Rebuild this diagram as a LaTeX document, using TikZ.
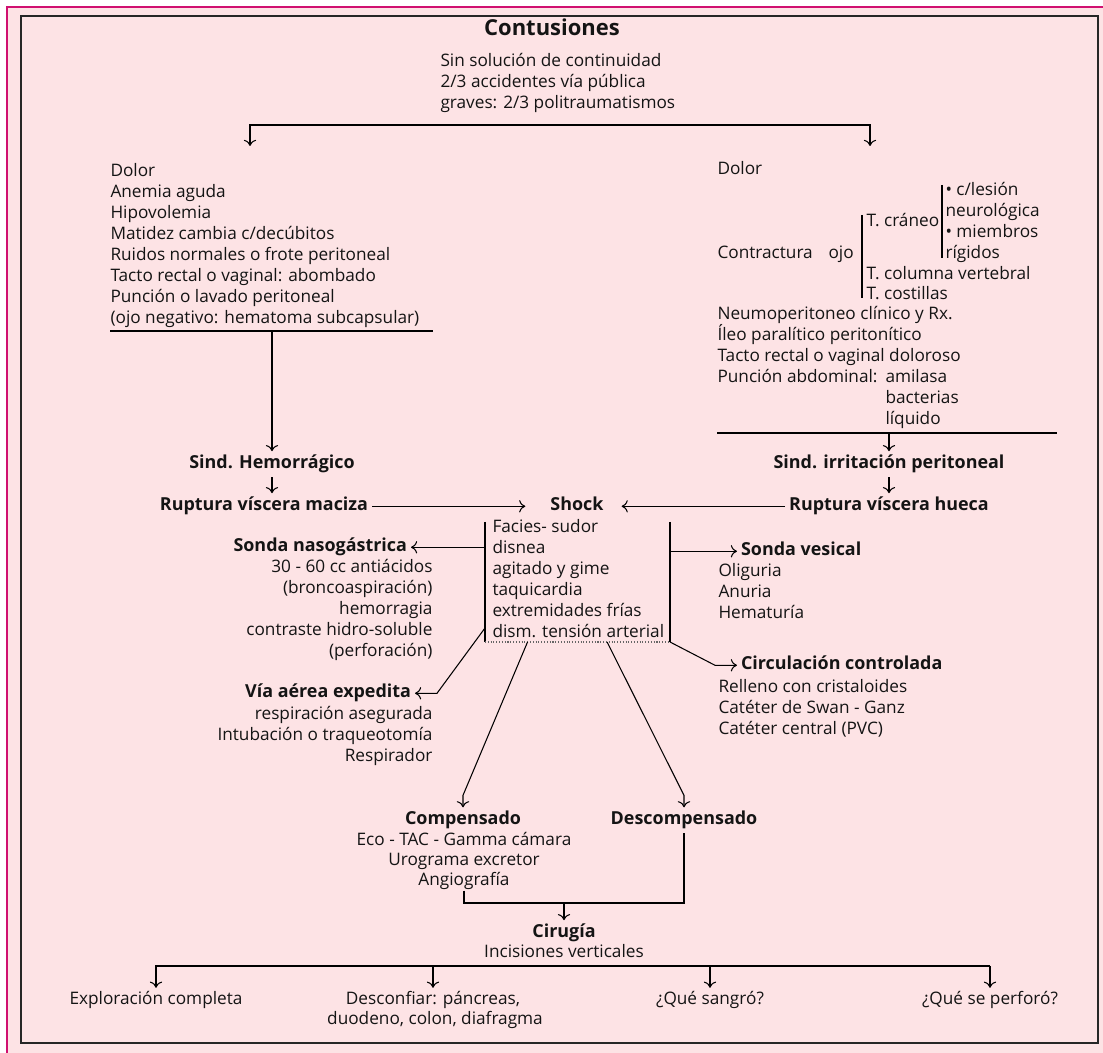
\documentclass[tikz,border=0pt]{standalone}
\usepackage{fontspec}
\setmainfont{Open Sans}
\usetikzlibrary{arrows.meta,calc}
\definecolor{fondo}{RGB}{253,227,229}
\definecolor{marco}{RGB}{208,16,112}
\definecolor{tinta}{RGB}{20,20,20}
\begin{document}
\begin{tikzpicture}[x=0.02cm,y=-0.02cm,line width=0.6pt,>={To[length=3.5pt,width=7pt]},
  txt/.style={font=\fontsize{9.8}{11}\selectfont,inner sep=0pt,text=tinta},
  tit/.style={font=\fontsize{10.2}{11}\selectfont\bfseries,inner sep=2pt,text=tinta}]
\useasboundingbox (0,0) rectangle (1103,1053);
\fill[fondo] (7,7) rectangle (1103,1053);
\draw[marco,line width=1.3pt] (7,1053) -- (7,7) -- (1103,7);
\draw[black!85,line width=1pt] (21,16) rectangle (1098,1043);
\node[tit,font=\fontsize{12.5}{14}\selectfont\bfseries,anchor=base] (cont) at (552,36) {Contusiones};
\foreach \t [count=\i] in {Sin solución de continuidad,2/3 accidentes vía pública,graves: 2/3 politraumatismos}
  \node[txt,anchor=base west] (sup\i) at (440,{46+21*\i}) {\t};
\coordinate (bajaI) at (250,146);
\coordinate (bajaD) at (870,146);
\draw[<->] (bajaI) -- ++(0,-21) -| (bajaD);
\foreach \t [count=\i] in {Dolor,Anemia aguda,Hipovolemia,Matidez cambia c/decúbitos,Ruidos normales o frote peritoneal,Tacto rectal o vaginal: abombado,Punción o lavado peritoneal,(ojo negativo: hematoma subcapsular)}
  \node[txt,anchor=base west] (izq\i) at (110,{156+21*\i}) {\t};
\coordinate (rayaI) at (110,331);
\coordinate (rayaD) at (433,331);
\draw (rayaI) -- (rayaD);
\node[tit,anchor=base] (hem) at (272,469) {Sind. Hemorrágico};
\draw[->] (hem.north |- rayaI) -- (hem.north);
\node[tit,anchor=base] (maciza) at (264,511) {Ruptura víscera maciza};
\draw[->] (hem.south) -- (hem.south |- maciza.north);
\node[tit,anchor=base] (shock) at (577,511) {Shock};
\draw[->,shorten >=12pt] (maciza.mid east) -- (shock.mid west);
\node[txt,anchor=base west] (der1) at (717,175) {Dolor};
\node[txt,anchor=base west] (contr) at (717,259) {Contractura};
\node[txt,anchor=base west] (ojo) at (828,259) {ojo};
\draw (862,215) -- (862,298);
\node[txt,anchor=base west] (cran) at (866,227) {T. cráneo};
\draw (942,185) -- (942,258);
\foreach \t [count=\i] in {• c/lesión,neurológica,• miembros,rígidos}
  \node[txt,anchor=base west] (les\i) at (945,{175+21*\i}) {\t};
\node[txt,anchor=base west] (colum) at (866,280) {T. columna vertebral};
\node[txt,anchor=base west] (cost) at (866,300) {T. costillas};
\foreach \t [count=\i] in {Neumoperitoneo clínico y Rx.,Íleo paralítico peritonítico,Tacto rectal o vaginal doloroso,Punción abdominal:}
  \node[txt,anchor=base west] (der\i) at (717,{299+21*\i}) {\t};
\foreach \t [count=\i] in {amilasa,bacterias,líquido}
  \node[txt,anchor=base west] (pun\i) at (885,{362+21*\i}) {\t};
\coordinate (raya2I) at (717,433);
\coordinate (raya2D) at (1057,433);
\draw (raya2I) -- (raya2D);
\node[tit,anchor=base] (irrit) at (889,469) {Sind. irritación peritoneal};
\draw[->] (irrit.north |- raya2I) -- (irrit.north);
\node[tit,anchor=base] (hueca) at (889,511) {Ruptura víscera hueca};
\draw[->] (irrit.south) -- (irrit.south |- hueca.north);
\draw[->,shorten >=8pt] (hueca.mid west) -- (shock.mid east);
\coordinate (cajaSI) at (485,522);
\coordinate (cajaII) at (485,642);
\coordinate (cajaID) at (670,642);
\coordinate (cajaSD) at (670,522);
\draw (cajaSI) -- (cajaII);
\draw (cajaSD) -- (cajaID);
\draw[densely dotted,black!60] (cajaII) -- (cajaID);
\foreach \t [count=\i] in {Facies- sudor,disnea,agitado y gime,taquicardia,extremidades frías,dism. tensión arterial}
  \node[txt,anchor=base west] (sig\i) at (492,{512+21*\i}) {\t};
\node[tit,anchor=base east] (sng) at (411,552) {Sonda nasogástrica};
\draw[->] (cajaSI |- sng.mid) -- (sng.mid east);
\foreach \t [count=\i] in {30 - 60 cc antiácidos,(broncoaspiración),hemorragia,contraste hidro-soluble,(perforación)}
  \node[txt,anchor=base east] (sng\i) at (433,{552+21*\i}) {\t};
\node[tit,anchor=base west] (sv) at (737,556) {Sonda vesical};
\draw[->] (cajaSD |- sv.mid) -- (sv.mid west);
\foreach \t [count=\i] in {Oliguria,Anuria,Hematuría}
  \node[txt,anchor=base west] (sv\i) at (718,{556+21*\i}) {\t};
\node[tit,anchor=base west] (circ) at (737,670) {Circulación controlada};
\draw[->] (cajaID) -- ($(circ.mid west)+(-22,0)$) -- (circ.mid west);
\foreach \t [count=\i] in {Relleno con cristaloides,Catéter de Swan - Ganz,Catéter central (PVC)}
  \node[txt,anchor=base west] (circ\i) at (718,{672+21*\i}) {\t};
\node[tit,anchor=base east] (via) at (415,698) {Vía aérea expedita};
\draw[->] ($(cajaII)+(0,-14)$) -- ($(via.mid east)+(22,0)$) -- (via.mid east);
\foreach \t [count=\i] in {respiración asegurada,Intubación o traqueotomía,Respirador}
  \node[txt,anchor=base east] (via\i) at (433,{699+21*\i}) {\t};
\node[tit,anchor=base] (comp) at (463,825) {Compensado};
\draw[->] ($(cajaII)!0.23!(cajaID)$) -- ($(comp.north)+(0,-12)$) -- (comp.north);
\foreach \t [count=\i] in {Eco - TAC - Gamma cámara,Urograma excretor,Angiografía}
  \node[txt,anchor=base] (comp\i) at (464,{826+20*\i}) {\t};
\node[tit,anchor=base] (desc) at (684,825) {Descompensado};
\draw[->] ($(cajaII)!0.66!(cajaID)$) -- ($(desc.north)+(0,-12)$) -- (desc.north);
\coordinate (junta) at (564,903);
\draw (comp3.south) |- (junta) -| (desc.south);
\node[tit,anchor=base] (cir) at (564,938) {Cirugía};
\draw[->] (junta) -- (cir.north);
\node[txt,anchor=base] (inc) at (564,958) {Incisiones verticales};
\coordinate (ramaI) at (155,966);
\coordinate (ramaD) at (990,966);
\draw (ramaI) -- (ramaD);
\node[txt,anchor=base] (expl) at (156,1005) {Exploración completa};
\node[txt,anchor=base] (dsc1) at (433,1005) {Desconfiar: páncreas,};
\node[txt,anchor=base] (dsc2) at (435,1025) {duodeno, colon, diafragma};
\node[txt,anchor=base] (sang) at (710,1005) {¿Qué sangró?};
\node[txt,anchor=base] (perf) at (990,1005) {¿Qué se perforó?};
\foreach \n in {expl,dsc1,sang,perf}
  \draw[->] (\n.north |- ramaI) -- ([yshift=2pt]\n.north);
\end{tikzpicture}
\end{document}
